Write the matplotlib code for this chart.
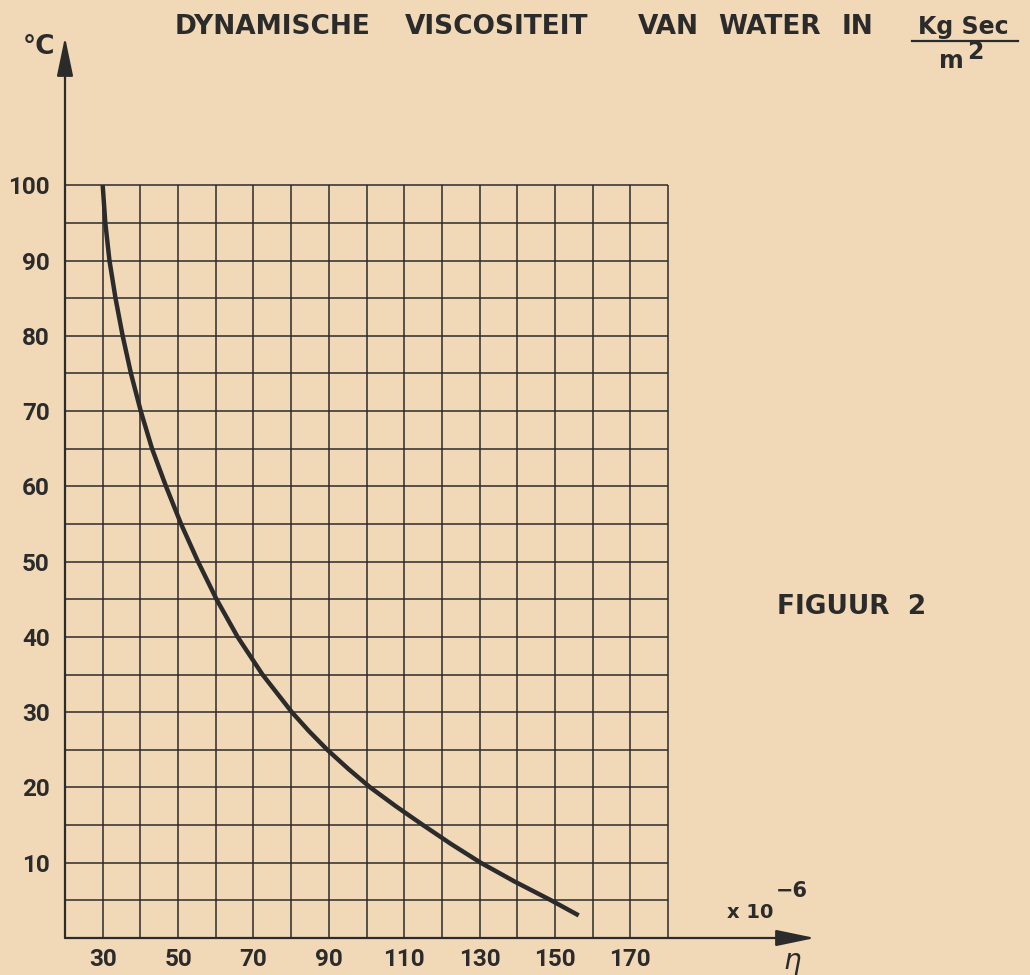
import numpy as np
import matplotlib.pyplot as plt
from matplotlib.lines import Line2D

# Data (temperature in deg C, viscosity x 10^-6 kg s / m^2)
temp_c = [100, 95, 90, 85, 80, 75, 70, 65, 60, 55, 50, 45, 40, 35, 30, 27.5, 25, 22.5, 20,
          17.5, 15, 12.5, 10, 7.5, 5, 3]
eta = [30.0, 30.7, 31.8, 33.4, 35.3, 37.5, 40.1, 43.1, 46.8, 50.8, 55.3, 60.2, 65.8, 72.4, 80.2,
       84.7, 89.6, 95.1, 101.0, 107.8, 115.0, 122.4, 130.3, 139.3, 149.0, 156.3]

x_grid = list(range(20, 190, 10))
y_grid = list(range(0, 105, 5))
x_ticks = [30, 50, 70, 90, 110, 130, 150, 170]
y_ticks = [10, 20, 30, 40, 50, 60, 70, 80, 90, 100]

BG = '#f1d9b8'
INK = '#2b2b2b'
W, H = 1030, 975

fig = plt.figure(figsize=(W / 100, H / 100), dpi=100, facecolor=BG)
ax = fig.add_axes([65 / W, 1 - 938 / H, 750 / W, 901 / H])
ax.set_facecolor(BG)
ax.set_xlim(20, 219)
ax.set_ylim(0, 119.7)
for s in ax.spines.values():
    s.set_visible(False)

# grid paper
ax.vlines(x_grid, 0, 100, color=INK, lw=1.1)
ax.hlines(y_grid, 20, 180, color=INK, lw=1.1)

# the curve
ax.plot(eta, temp_c, color=INK, lw=3.2, solid_capstyle='butt', solid_joinstyle='round')

# axes with arrows
arrow = dict(arrowstyle='-|>,head_length=2.4,head_width=0.5', mutation_scale=10,
             color=INK, lw=1.6, shrinkA=0, shrinkB=0)
ax.annotate('', xy=(0, 1), xytext=(0, 0), xycoords='axes fraction', arrowprops=arrow)
ax.annotate('', xy=(1, 0), xytext=(0, 0), xycoords='axes fraction', arrowprops=arrow)

tick_font = dict(family='Roboto', weight='bold', size=17.5, color=INK)
ax.set_xticks(x_ticks)
ax.set_xticklabels([str(v) for v in x_ticks], fontdict=tick_font)
ax.set_yticks(y_ticks)
ax.set_yticklabels([str(v) for v in y_ticks], fontdict=tick_font)
ax.tick_params(length=0, pad=7)
ax.tick_params(axis='y', pad=11)


def px(x, y):
    return x / W, 1 - y / H


title_font = dict(family='DejaVu Sans', weight='bold', size=19, color=INK, va='center')
words = [('DYNAMISCHE', 175), ('VISCOSITEIT', 405), ('VAN', 638), ('WATER', 718), ('IN', 842)]
for w, x0 in words:
    fig.text(*px(x0, 27), w, ha='left', **title_font)

unit_font = dict(family='DejaVu Sans', weight='bold', size=17, color=INK, va='center')
fig.text(*px(963, 27), 'Kg Sec', ha='center', **unit_font)
fig.add_artist(Line2D([912 / W, 1018 / W], [1 - 41 / H, 1 - 41 / H], color=INK, lw=1.6))
fig.text(*px(951, 61), 'm', ha='center', **unit_font)
fig.text(*px(975, 52), '2', ha='center', **unit_font)

fig.text(*px(39, 47), '°C', ha='center', **title_font)
fig.text(*px(852, 607), 'FIGUUR  2', ha='center', **title_font)

fig.text(*px(750, 912), 'x 10', ha='center', family='DejaVu Sans', weight='bold', size=14,
         color=INK, va='center')
fig.text(*px(792, 891), '\u22126', ha='center', family='DejaVu Sans', weight='bold', size=15,
         color=INK, va='center')
fig.text(*px(792, 961), 'η', ha='center', family='DejaVu Sans', style='italic', size=20,
         color=INK, va='center')

fig.savefig('out.png', dpi=100, facecolor=BG)
